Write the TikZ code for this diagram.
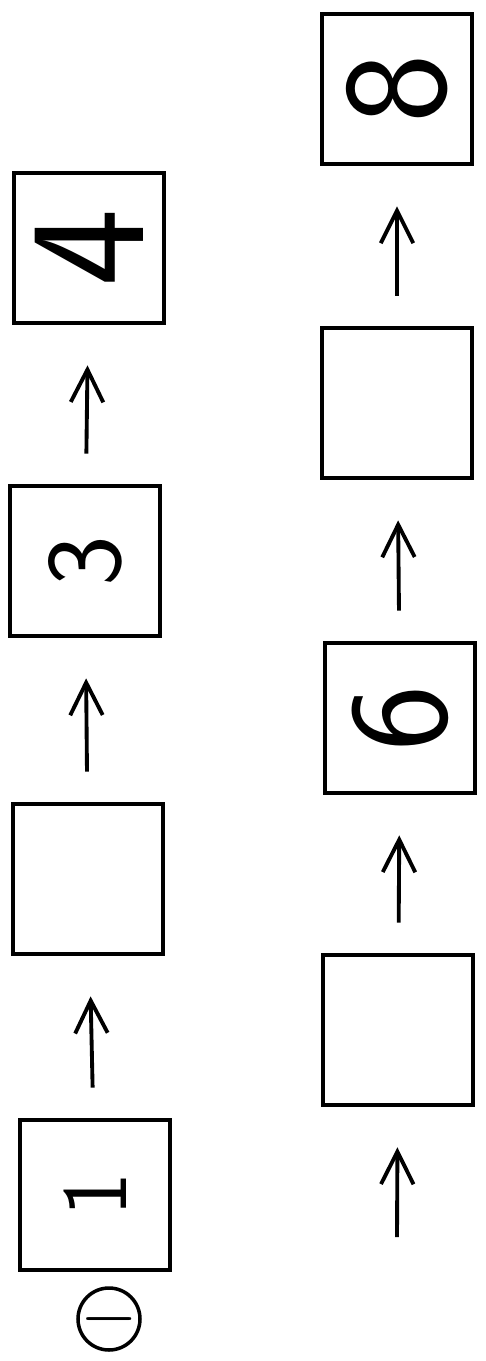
\documentclass[tikz,border=0pt]{standalone}
\usepackage{graphicx}
\usepackage{tikz}
\usetikzlibrary{arrows.meta,positioning}
\begin{document}
\begin{tikzpicture}[x=0.02cm, y=-0.02cm,
  box/.style={draw, line width=2.7pt, minimum width=3cm, minimum height=3cm,
    rotate=90},
  digit/.style={font=\sffamily\fontsize{#1}{#1}\selectfont},
  up/.style={-{Straight Barb[length=6.5mm, width=6.5mm]}, line width=2.2pt,
    shorten <=0.6cm, shorten >=0.8cm}]
\useasboundingbox (0,0) rectangle (486,1361);
% left column
\node[box, digit=53] (b1) at (95,1195) {1};
\node[box] (b2) at (88,879) {};
\node[box, digit=61] (b3) at (85,561) {3};
\node[box, digit=94] (b4) at (89,248) {4};
\node[draw, circle, line width=2pt, minimum size=1.24cm, inner sep=0pt]
  (c0) at (109,1319) {\raisebox{-10.5pt}[0pt][0pt]{\scalebox{4.2}{$-$}}};
% right column
\node[box] (b5) at (398,1030) {};
\node[box, digit=80] (b6) at (400,718) {6};
\node[box] (b7) at (397,403) {};
\node[box, digit=84] (b8) at (397,89) {8};
\coordinate (start) at (397,1237);
\draw[up] (b1) -- (b2);
\draw[up] (b2) -- (b3);
\draw[up] (b3) -- (b4);
\draw[up, shorten <=0pt] (start) -- (b5);
\draw[up] (b5) -- (b6);
\draw[up] (b6) -- (b7);
\draw[up] (b7) -- (b8);
\end{tikzpicture}
\end{document}
